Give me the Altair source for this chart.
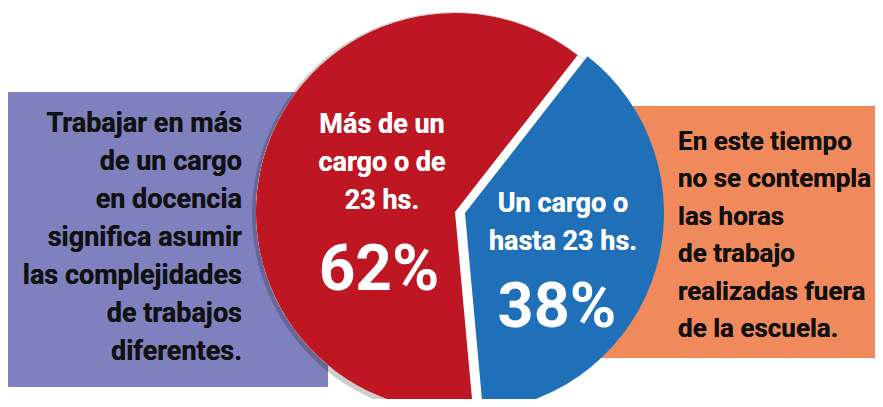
import math
import altair as alt
import pandas as pd

# ---- data ----
categories = ["Más de un cargo o de 23 hs.", "Un cargo o hasta 23 hs."]
values = [62, 38]
slice_lines = [["Más de un", "cargo o de", "23 hs."], ["Un cargo o", "hasta 23 hs."]]
left_note = ["Trabajar en más", "de un cargo", "en docencia", "significa asumir",
             "las complejidades", "de trabajos", "diferentes."]
right_note = ["En este tiempo", "no se contempla", "las horas", "de trabajo",
              "realizadas fuera", "de la escuela."]

# blue slice drawn first (clockwise from ~38 degrees), then red
order = [1, 0]
rows = []
acc = 0
for i in order:
    rows.append({"cat": categories[i], "value": values[i], "start": acc, "end": acc + values[i],
                 "pct": f"{values[i]}%"})
    acc += values[i]
df = pd.DataFrame(rows)

RED = "#BE1622"
BLUE = "#1F70B8"
PURPLE = "#7F80BE"
ORANGE = "#F08A5D"
FONT = "Roboto"

start_angle = math.radians(38)
theta_scale = alt.Scale(domain=[0, 100], range=[start_angle, start_angle + 2 * math.pi])

W, H = 867, 391
R = 199

base = alt.Chart(df)

purple_rect = base.mark_rect(color=PURPLE).encode(
    x=alt.value(0), x2=alt.value(320), y=alt.value(84), y2=alt.value(379))
orange_rect = base.mark_rect(color=ORANGE).encode(
    x=alt.value(580), x2=alt.value(W), y=alt.value(98), y2=alt.value(350))

shadow = base.mark_arc(radius=R + 3, color="#000000", opacity=0.10).encode(
    theta=alt.value(0), theta2=alt.value(2 * math.pi), x=alt.value(446), y=alt.value(206))
underlay = base.mark_arc(radius=R, color="white").encode(
    theta=alt.value(0), theta2=alt.value(2 * math.pi), x=alt.value(447), y=alt.value(204))

red_arc = base.transform_filter(alt.datum.cat == categories[0]).mark_arc(
    radius=R, color=RED).encode(
    theta=alt.Theta("start:Q", scale=theta_scale), theta2="end:Q",
    x=alt.value(447), y=alt.value(204))
blue_arc = base.transform_filter(alt.datum.cat == categories[1]).mark_arc(
    radius=R, color=BLUE).encode(
    theta=alt.Theta("start:Q", scale=theta_scale), theta2="end:Q",
    x=alt.value(457), y=alt.value(205))

red_lab = base.mark_text(font=FONT, fontSize=27, fontWeight="bold", color="white",
                         align="center", baseline="alphabetic", lineHeight=38).encode(
    x=alt.value(374), y=alt.value(125), text=alt.value(slice_lines[0]))
red_pct = base.transform_filter(alt.datum.cat == categories[0]).mark_text(
    font=FONT, fontSize=64, fontWeight="bold", color="white",
    align="center", baseline="alphabetic").encode(
    x=alt.value(371), y=alt.value(282), text="pct:N")
blue_lab = base.mark_text(font=FONT, fontSize=27, fontWeight="bold", color="white",
                          align="center", baseline="alphabetic", lineHeight=38).encode(
    x=alt.value(555), y=alt.value(204), text=alt.value(slice_lines[1]))
blue_pct = base.transform_filter(alt.datum.cat == categories[1]).mark_text(
    font=FONT, fontSize=63, fontWeight="bold", color="white",
    align="center", baseline="alphabetic").encode(
    x=alt.value(549), y=alt.value(319), text="pct:N")

left_txt = base.mark_text(font=FONT, fontSize=27, fontWeight="bold", color="#111111",
                          align="right", baseline="alphabetic", lineHeight=38).encode(
    x=alt.value(234), y=alt.value(124), text=alt.value(left_note))
right_txt = base.mark_text(font=FONT, fontSize=26, fontWeight="bold", color="#111111",
                           align="left", baseline="alphabetic", lineHeight=37.4).encode(
    x=alt.value(670), y=alt.value(142), text=alt.value(right_note))

chart = alt.layer(
    purple_rect, orange_rect, shadow, underlay, red_arc, blue_arc,
    red_lab, red_pct, blue_lab, blue_pct, left_txt, right_txt
).properties(
    width=W, height=H, padding=0, autosize=alt.AutoSizeParams(type="none"),
    background="white"
).configure_view(stroke=None)

chart.save("out.html", embed_options={"renderer": "svg", "actions": False})
